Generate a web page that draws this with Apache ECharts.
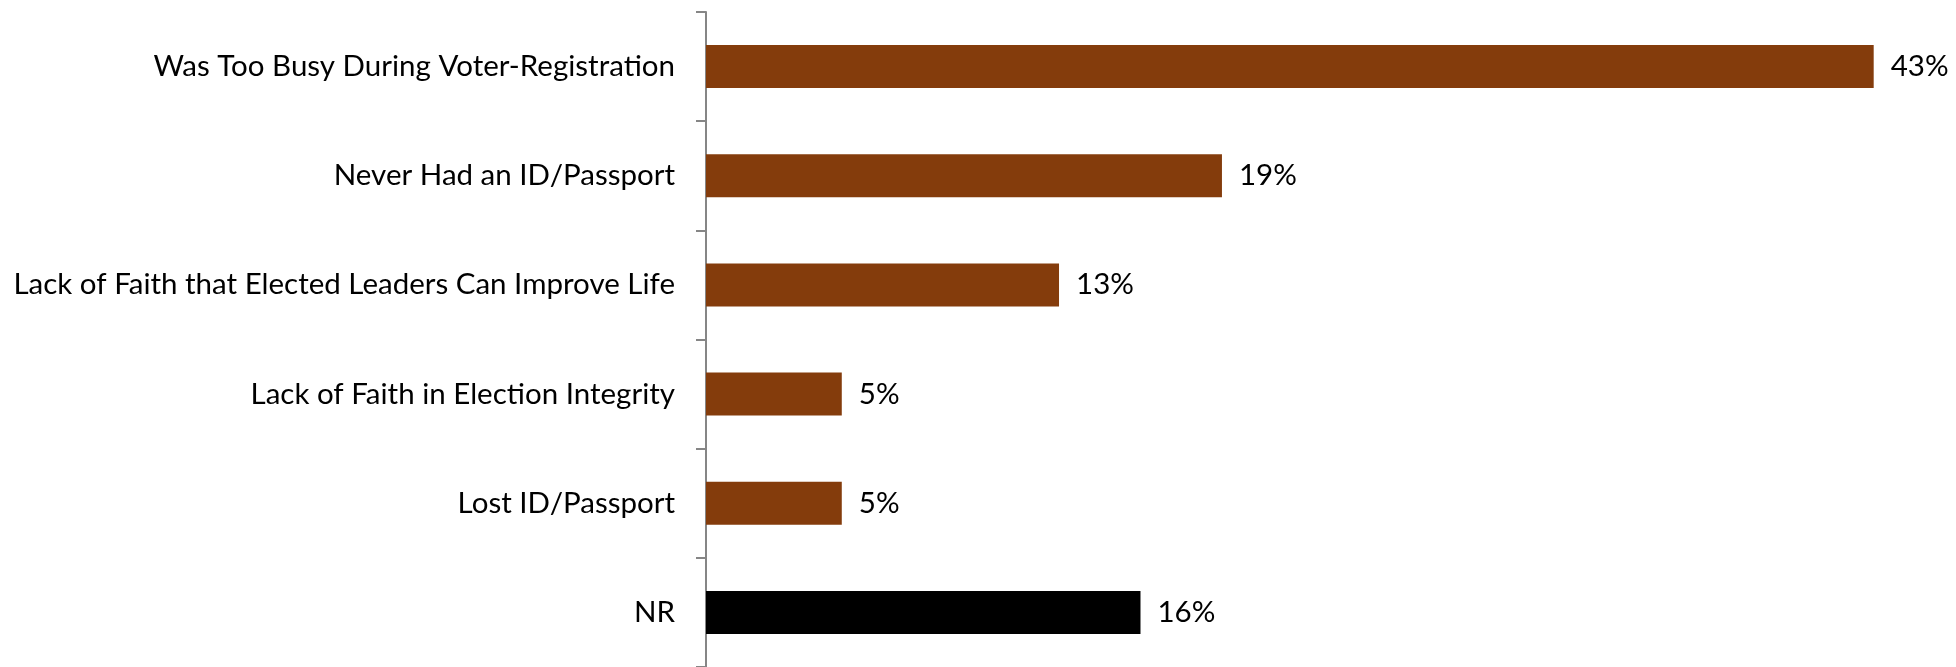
<!DOCTYPE html>
<html>
<head>
<meta charset="utf-8">
<script src="https://cdn.jsdelivr.net/npm/echarts@6/dist/echarts.min.js"></script>
<style>
    html, body { margin: 0; padding: 0; background: #fff; }
    #chart { width: 1956px; height: 667px; }
</style>
</head>
<body>
<div id="chart"></div>
<script>
// categories top to bottom
const categories = [
    'Was Too Busy During Voter-Registration',
    'Never Had an ID/Passport',
    'Lack of Faith that Elected Leaders Can Improve Life',
    'Lack of Faith in Election Integrity',
    'Lost ID/Passport',
    'NR'
]
const values = [43, 19, 13, 5, 5, 16]
const barColors = ['#843c0c', '#843c0c', '#843c0c', '#843c0c', '#843c0c', '#000000']

const chart = echarts.init(document.getElementById('chart'))
const font = 'Lato, "Open Sans", sans-serif'

const option = {
    animation: false,
    grid: {
        left: 706,
        top: 12,
        width: 1222,
        height: 663
    },
    xAxis: {
        type: 'value',
        min: 0,
        max: 45,
        show: false
    },
    yAxis: {
        type: 'category',
        inverse: true,
        data: categories,
        axisLine: { lineStyle: { color: '#868686', width: 2 } },
        axisTick: { show: true, length: 10, lineStyle: { color: '#868686', width: 2 } },
        axisLabel: {
            margin: 31,
            color: '#000',
            fontSize: 29.5,
            fontFamily: font
        }
    },
    series: [{
        type: 'bar',
        barWidth: 43,
        data: values.map((v, i) => ({
            value: v,
            itemStyle: { color: barColors[i] }
        })),
        label: {
            show: true,
            position: 'right',
            distance: 17,
            color: '#000',
            fontSize: 29.5,
            fontFamily: font,
            formatter: p => p.value + '%'
        }
    }]
}
chart.setOption(option)
</script>
</body>
</html>
